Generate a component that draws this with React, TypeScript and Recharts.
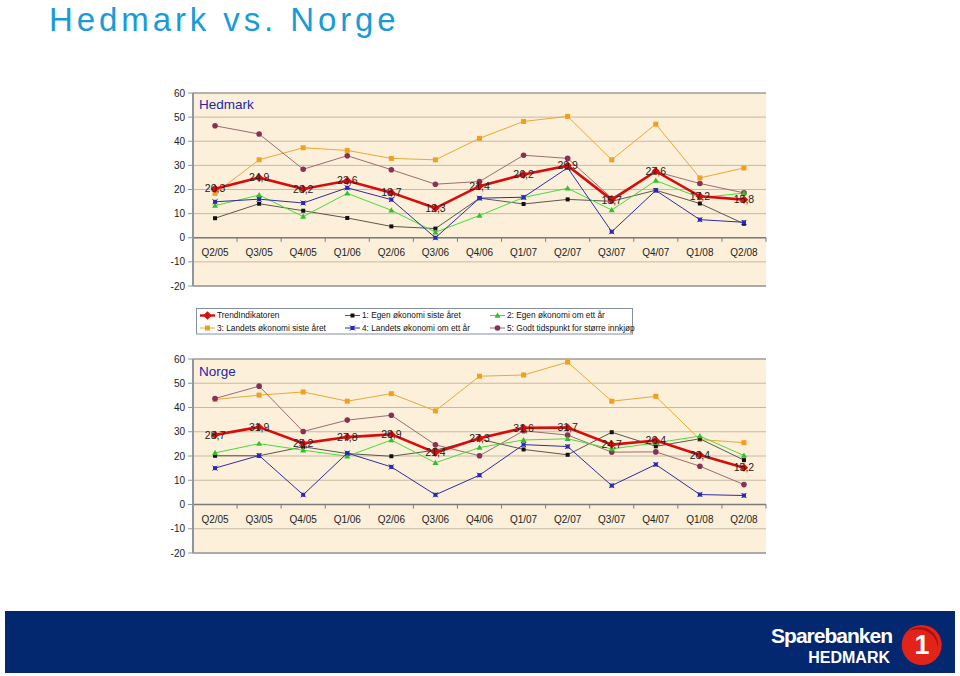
import React from 'react';
import { LineChart, Line, XAxis, YAxis, CartesianGrid, ReferenceLine } from 'recharts';

const quarters = ['Q2/05', 'Q3/05', 'Q4/05', 'Q1/06', 'Q2/06', 'Q3/06', 'Q4/06', 'Q1/07', 'Q2/07', 'Q3/07', 'Q4/07', 'Q1/08', 'Q2/08'];
const yTicks = [-20, -10, 0, 10, 20, 30, 40, 50, 60];

const seriesNames = [
  'TrendIndikatoren',
  '1: Egen økonomi siste året',
  '2: Egen økonomi om ett år',
  '3: Landets økonomi siste året',
  '4: Landets økonomi om ett år',
  '5: Godt tidspunkt for større innkjøp',
];

// Hedmark
const hedTrend = [20.3, 24.9, 20.2, 23.6, 18.7, 12.3, 21.4, 26.2, 29.9, 15.7, 27.6, 17.2, 15.8];
const hedS1 = [8.1, 14.1, 11.2, 8.2, 4.7, 3.8, 16.4, 14.0, 15.9, 15.1, 19.7, 14.2, 5.8];
const hedS2 = [13.3, 17.7, 8.8, 18.4, 11.4, 2.3, 9.2, 16.7, 20.5, 11.5, 23.7, 16.6, 18.5];
const hedS3 = [18.4, 32.3, 37.3, 36.2, 32.9, 32.3, 41.2, 48.2, 50.3, 32.3, 47.1, 24.8, 28.9];
const hedS4 = [14.9, 16.0, 14.4, 20.7, 15.8, 0.0, 16.4, 16.8, 29.0, 2.5, 19.6, 7.5, 6.4];
const hedS5 = [46.4, 43.0, 28.4, 34.0, 28.2, 22.2, 23.3, 34.2, 32.9, 16.4, 27.4, 22.5, 18.6];

// Norge
const norTrend = [28.7, 31.9, 25.2, 27.8, 28.9, 21.4, 27.3, 31.6, 31.7, 24.7, 26.4, 20.4, 15.2];
const norS1 = [20.1, 20.1, 23.8, 21.0, 19.9, 22.4, 27.0, 22.7, 20.5, 29.8, 24.0, 27.1, 18.3];
const norS2 = [21.3, 25.1, 22.4, 19.9, 26.6, 17.2, 23.5, 26.6, 27.1, 22.9, 25.4, 28.2, 20.2];
const norS3 = [43.3, 45.1, 46.4, 42.6, 45.7, 38.6, 52.9, 53.4, 58.7, 42.6, 44.6, 26.8, 25.5];
const norS4 = [15.0, 20.2, 4.0, 21.2, 15.5, 4.0, 12.1, 24.7, 23.9, 7.8, 16.5, 4.1, 3.7];
const norS5 = [43.7, 48.8, 30.1, 34.8, 36.8, 24.6, 20.1, 30.4, 28.6, 21.6, 21.7, 15.8, 8.2];

const FONT = '"Liberation Sans", Arial, Helvetica, sans-serif';

type Style = { key: string; line: string; marker: string; kind: string; width: number };
const styles: Style[] = [
  { key: 'trend', line: '#d90b0b', marker: '#d90b0b', kind: 'diamond', width: 2.6 },
  { key: 's1', line: '#5e564e', marker: '#111111', kind: 'square', width: 1 },
  { key: 's2', line: '#47dc3c', marker: '#2fc02a', kind: 'triangle', width: 1 },
  { key: 's3', line: '#e8a934', marker: '#f0a020', kind: 'square5', width: 1 },
  { key: 's4', line: '#2e2ea0', marker: '#2a2ab8', kind: 'cross', width: 1 },
  { key: 's5', line: '#9c6c72', marker: '#8a2f55', kind: 'circle', width: 1 },
];

function build(trend: number[], s1: number[], s2: number[], s3: number[], s4: number[], s5: number[]) {
  return quarters.map((q, i) => ({ q, trend: trend[i], s1: s1[i], s2: s2[i], s3: s3[i], s4: s4[i], s5: s5[i] }));
}
const hedData = build(hedTrend, hedS1, hedS2, hedS3, hedS4, hedS5);
const norData = build(norTrend, norS1, norS2, norS3, norS4, norS5);

function marker(kind: string, color: string, cx: number, cy: number, key?: any) {
  switch (kind) {
    case 'diamond':
      return (
        <g key={key}>
          <polygon points={`${cx},${cy - 4.2} ${cx + 4.2},${cy} ${cx},${cy + 4.2} ${cx - 4.2},${cy}`} fill={color} />
        </g>
      );
    case 'square':
      return <rect key={key} x={cx - 2} y={cy - 2} width={4} height={4} fill={color} />;
    case 'square5':
      return <rect key={key} x={cx - 2.5} y={cy - 2.5} width={5} height={5} fill={color} />;
    case 'triangle':
      return <polygon key={key} points={`${cx},${cy - 3} ${cx + 3},${cy + 2.2} ${cx - 3},${cy + 2.2}`} fill={color} />;
    case 'cross':
      return (
        <g key={key}>
          <rect x={cx - 2} y={cy - 2} width={4} height={4} fill={color} />
          <line x1={cx - 2.5} y1={cy - 2.5} x2={cx + 2.5} y2={cy + 2.5} stroke={color} strokeWidth={1} />
          <line x1={cx - 2.5} y1={cy + 2.5} x2={cx + 2.5} y2={cy - 2.5} stroke={color} strokeWidth={1} />
        </g>
      );
    default:
      return <circle key={key} cx={cx} cy={cy} r={2.8} fill={color} />;
  }
}

const makeDot = (kind: string, color: string) => (props: any) => {
  const { cx, cy, index } = props;
  if (cx == null || cy == null) return <g key={index} />;
  return marker(kind, color, cx, cy, index);
};

const fmt = (v: number) => v.toFixed(1).replace('.', ',');

const trendLabel = (props: any) => {
  const { x, y, value, index } = props;
  if (x == null || y == null) return <g key={index} />;
  return (
    <text key={index} x={x} y={y} dy="0.35em" textAnchor="middle" fontSize={10.5} fill="#222" fontFamily={FONT}>
      {fmt(Number(value))}
    </text>
  );
};

const zeroAxis = (props: any) => {
  const { x1, x2, y1 } = props;
  const n = quarters.length;
  const step = (x2 - x1) / n;
  return (
    <g>
      <line x1={x1} x2={x2} y1={y1} y2={y1} stroke="#7a7a7a" strokeWidth={1.5} />
      {quarters.map((q, i) => (
        <line key={'t' + q} x1={x1 + (i + 1) * step} x2={x1 + (i + 1) * step} y1={y1} y2={y1 + 4} stroke="#7a7a7a" strokeWidth={1} />
      ))}
      {quarters.map((q, i) => (
        <text key={q} x={x1 + (i + 0.5) * step} y={y1 + 15} dy="0.35em" textAnchor="middle" fontSize={10} fill="#222" fontFamily={FONT}>
          {q}
        </text>
      ))}
    </g>
  );
};

function Panel({ data, top, mTop, mBottom }: { data: any[]; top: number; mTop: number; mBottom: number }) {
  const order = ['s3', 's5', 's1', 's2', 's4', 'trend'];
  return (
    <div style={{ position: 'absolute', left: 0, top, width: 960, height: 220 }}>
      <LineChart width={960} height={220} data={data} margin={{ top: mTop, right: 194, bottom: mBottom, left: 153 }}>
        <CartesianGrid vertical={false} stroke="#c6baa2" fill="#fcf0da" />
        <XAxis dataKey="q" type="category" scale="band" hide />
        <YAxis
          type="number"
          domain={[-20, 60]}
          ticks={yTicks}
          interval={0}
          width={40}
          tickSize={5}
          tickMargin={3}
          tick={{ fontSize: 10, fill: '#222', fontFamily: FONT }}
          tickLine={{ stroke: '#8c96a0' }}
          axisLine={{ stroke: '#8c96a0', strokeWidth: 2 }}
        />
        <YAxis
          yAxisId="r"
          orientation="right"
          type="number"
          domain={[-20, 60]}
          width={0}
          tick={false}
          tickLine={false}
          axisLine={{ stroke: '#8a8a8a' }}
        />
        <ReferenceLine y={60} stroke="#8a8a8a" strokeWidth={1} />
        <ReferenceLine y={-20} stroke="#9a9a9a" strokeWidth={1.5} />
        <ReferenceLine y={0} shape={zeroAxis} />
        {order.map((k) => {
          const s = styles.find((t) => t.key === k)!;
          return (
            <Line
              key={k}
              type="linear"
              dataKey={k}
              name={seriesNames[styles.indexOf(s)]}
              stroke={s.line}
              strokeWidth={s.width}
              dot={makeDot(s.kind, s.marker)}
              activeDot={false}
              isAnimationActive={false}
              label={k === 'trend' ? trendLabel : false}
            />
          );
        })}
      </LineChart>
    </div>
  );
}

function LegendBox() {
  const cols = [200, 345, 490];
  const rows = [315.5, 328];
  return (
    <g>
      <rect x={196.5} y={308.5} width={436} height={25.5} fill="#ffffff" stroke="#8590a6" strokeWidth={1} />
      {styles.map((s, i) => {
        const x = cols[i % 3];
        const y = rows[Math.floor(i / 3)];
        return (
          <g key={s.key}>
            <line x1={x} x2={x + 15} y1={y} y2={y} stroke={s.line} strokeWidth={s.key === 'trend' ? 2.4 : 1} />
            {marker(s.kind, s.marker, x + 7.5, y)}
            <text x={x + 17} y={y} dy="0.35em" fontSize={8.3} fill="#111" fontFamily={FONT}>
              {seriesNames[i]}
            </text>
          </g>
        );
      })}
    </g>
  );
}

export default function App() {
  return (
    <div style={{ position: 'absolute', left: 0, top: 0, width: 960, height: 676, background: '#ffffff', overflow: 'hidden', fontFamily: FONT }}>
      <Panel data={hedData} top={80} mTop={13} mBottom={14} />
      <Panel data={norData} top={346} mTop={13} mBottom={13} />
      <svg width={960} height={676} style={{ position: 'absolute', left: 0, top: 0, pointerEvents: 'none' }}>
        <text x={49} y={31} fontSize={33} fill="#1a9bd7" fontFamily={FONT} letterSpacing={3.9}>
          Hedmark vs. Norge
        </text>
        <text x={199} y={109} fontSize={13.5} fill="#2326a8" fontFamily={FONT}>
          Hedmark
        </text>
        <text x={199} y={376} fontSize={13.5} fill="#2326a8" fontFamily={FONT}>
          Norge
        </text>
        <LegendBox />
        <rect x={5} y={611} width={950} height={62} fill="#03286f" />
        <text x={892} y={643} textAnchor="end" fontSize={21} fontWeight="bold" fill="#ffffff" fontFamily={FONT} letterSpacing={-1}>
          Sparebanken
        </text>
        <text x={890} y={663} textAnchor="end" fontSize={16} fontWeight="bold" fill="#ffffff" fontFamily={FONT}>
          HEDMARK
        </text>
        <circle cx={921.7} cy={645} r={20} fill="#e2231a" />
        <path d="M 908 632 A 18 18 0 0 1 938 648 A 20 20 0 0 0 908 632 Z" fill="#a8100c" />
        <text x={922} y={654} textAnchor="middle" fontSize={27} fontWeight="bold" fill="#ffffff" fontFamily={FONT}>
          1
        </text>
      </svg>
    </div>
  );
}
